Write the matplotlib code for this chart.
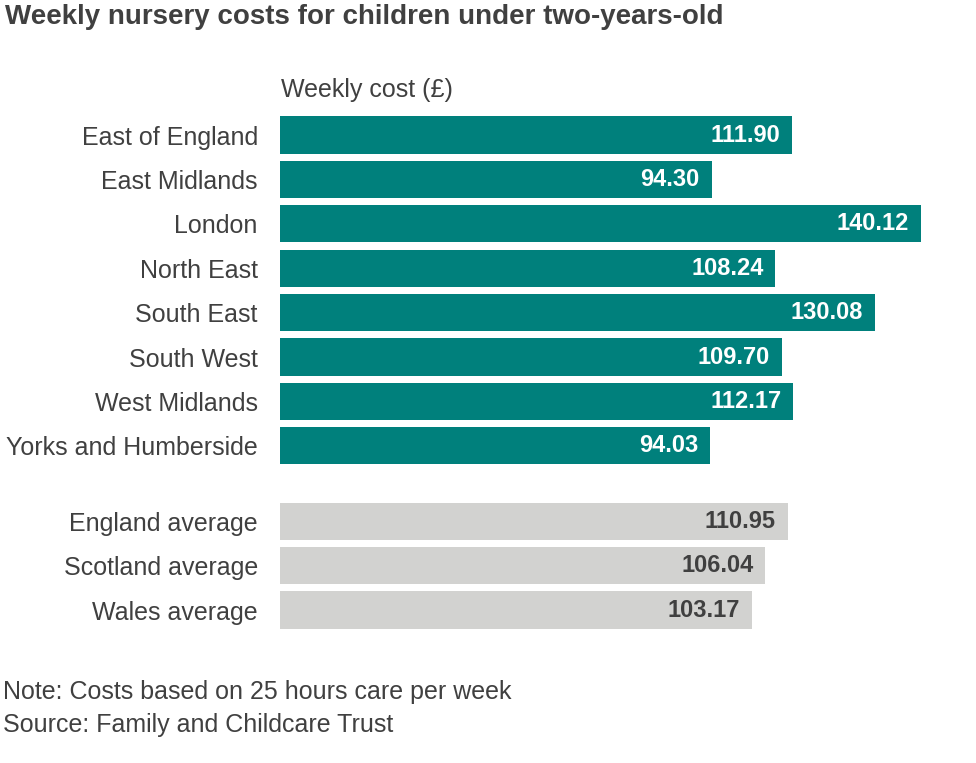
import matplotlib.pyplot as plt

regions = ["East of England", "East Midlands", "London", "North East",
           "South East", "South West", "West Midlands", "Yorks and Humberside"]
region_costs = [111.90, 94.30, 140.12, 108.24, 130.08, 109.70, 112.17, 94.03]

averages = ["England average", "Scotland average", "Wales average"]
average_costs = [110.95, 106.04, 103.17]

teal = "#00807c"
grey = "#d2d2d0"
text_col = "#404040"

plt.rcParams["font.family"] = ["Liberation Sans", "DejaVu Sans"]

fig = plt.figure(figsize=(9.76, 7.63), dpi=100)
ax = fig.add_axes([280 / 976, 1 - 650 / 763, 696 / 976, 550 / 763])

y_reg = list(range(len(regions)))
y_avg = [len(regions) + 0.7 + i for i in range(len(averages))]

ax.barh(y_reg, region_costs, height=0.84, color=teal)
ax.barh(y_avg, average_costs, height=0.84, color=grey)

for y, v in zip(y_reg, region_costs):
    ax.text(v - 2.6, y, f"{v:.2f}", ha="right", va="center",
            color="white", fontsize=17, fontweight="bold")
for y, v in zip(y_avg, average_costs):
    ax.text(v - 2.6, y, f"{v:.2f}", ha="right", va="center",
            color=text_col, fontsize=17, fontweight="bold")

ax.set_xlim(0, 152.1)
ax.set_ylim(11.6, -0.79)
ax.set_yticks(y_reg + y_avg)
ax.set_yticklabels(regions + averages, fontsize=18, color=text_col)
ax.tick_params(axis="y", length=0, pad=16)
ax.set_xticks([])
for s in ax.spines.values():
    s.set_visible(False)

fig.text(5 / 976, 1 - 17 / 763, "Weekly nursery costs for children under two-years-old",
         ha="left", va="center", fontsize=20, fontweight="bold", color=text_col)
fig.text(281 / 976, 1 - 90 / 763, "Weekly cost (£)",
         ha="left", va="center", fontsize=18, color=text_col)
fig.text(3 / 976, 1 - 692 / 763, "Note: Costs based on 25 hours care per week",
         ha="left", va="center", fontsize=18, color=text_col)
fig.text(3 / 976, 1 - 725 / 763, "Source: Family and Childcare Trust",
         ha="left", va="center", fontsize=18, color=text_col)

fig.savefig("out.png", dpi=100)
